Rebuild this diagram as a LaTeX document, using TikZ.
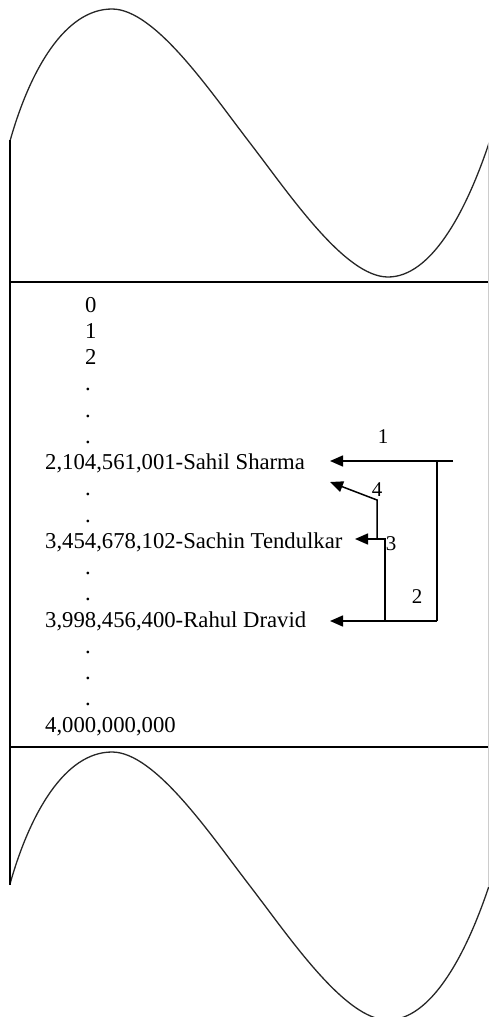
\documentclass[tikz,border=0pt]{standalone}
\usepackage{fontspec}
\setmainfont{Liberation Serif}
\usetikzlibrary{arrows.meta}
\begin{document}
\begin{tikzpicture}[x=1pt,y=-1pt,
  entry/.style={anchor=base west,inner sep=0pt,font=\fontsize{22.7}{27}\selectfont},
  num/.style={anchor=base,inner sep=0pt,font=\fontsize{21}{25}\selectfont},
  edge/.style={line width=1.5pt},
  arr/.style={edge,-{Triangle[length=13pt,width=11pt]}},
  wave/.style={line width=1.3pt,black!85},
  frame/.style={line width=1.5pt}]
\useasboundingbox (0,0) rectangle (489,1017);
% waves
\foreach \dy in {0,743}{
  \draw[wave,shift={(0,\dy)}] (10,141) .. controls (30,70) and (65,9) .. (112,9)
    .. controls (155,9) and (210,91) .. (250,143)
    .. controls (290,195) and (345,277) .. (388,277)
    .. controls (430,277) and (465,215) .. (489,143);
}
% frame
\draw[frame] (10,140) -- (10,885);
\draw[frame] (10,282) -- (489,282);
\draw[frame] (10,747) -- (489,747);
\draw[line width=0.8pt,black!20] (488.5,143) -- (488.5,887);
% list
\node[entry] (n0) at (85,312) {0};
\node[entry] (n1) at (85,338.25) {1};
\node[entry] (n2) at (85,364.5) {2};
\node[entry] (d1) at (85,390.75) {.};
\node[entry] (d2) at (85,417) {.};
\node[entry] (d3) at (85,443.25) {.};
\node[entry] (sahil) at (45,469.5) {2,104,561,001-Sahil Sharma};
\node[entry] (d4) at (85,495.75) {.};
\node[entry] (d5) at (85,522) {.};
\node[entry] (sachin) at (45,548.25) {3,454,678,102-Sachin Tendulkar};
\node[entry] (d6) at (85,574.5) {.};
\node[entry] (d7) at (85,600.75) {.};
\node[entry] (rahul) at (45,627) {3,998,456,400-Rahul Dravid};
\node[entry] (d8) at (85,653.25) {.};
\node[entry] (d9) at (85,679.5) {.};
\node[entry] (d10) at (85,705.75) {.};
\node[entry] (last) at (45,732) {4,000,000,000};
% connector points
\coordinate (start) at (453,461);
\coordinate (j1) at (437,461);
\coordinate (j2) at (437,621);
\coordinate (j3) at (385,621);
\coordinate (j4) at (385,539);
\coordinate (j5) at (377,539);
\coordinate (j6) at (377,500);
\coordinate (tsahil) at (330,461);
\coordinate (tsahil2) at (330,482);
\coordinate (tsachin) at (355,539);
\coordinate (trahul) at (330,621);
% connectors
\draw[arr] (start) -- (tsahil);
\draw[edge] (j1) -- (j2);
\draw[arr] (j2) -- (trahul);
\draw[edge] (j3) -- (j4) -- (j5);
\draw[arr] (j5) -- (tsachin);
\draw[arr] (j5) -- (j6) -- (tsahil2);
% labels
\node[num] (l1) at (383,443.5) {1};
\node[num] (l2) at (417,603) {2};
\node[num] (l3) at (391,550) {3};
\node[num] (l4) at (377,496) {4};
\end{tikzpicture}
\end{document}
